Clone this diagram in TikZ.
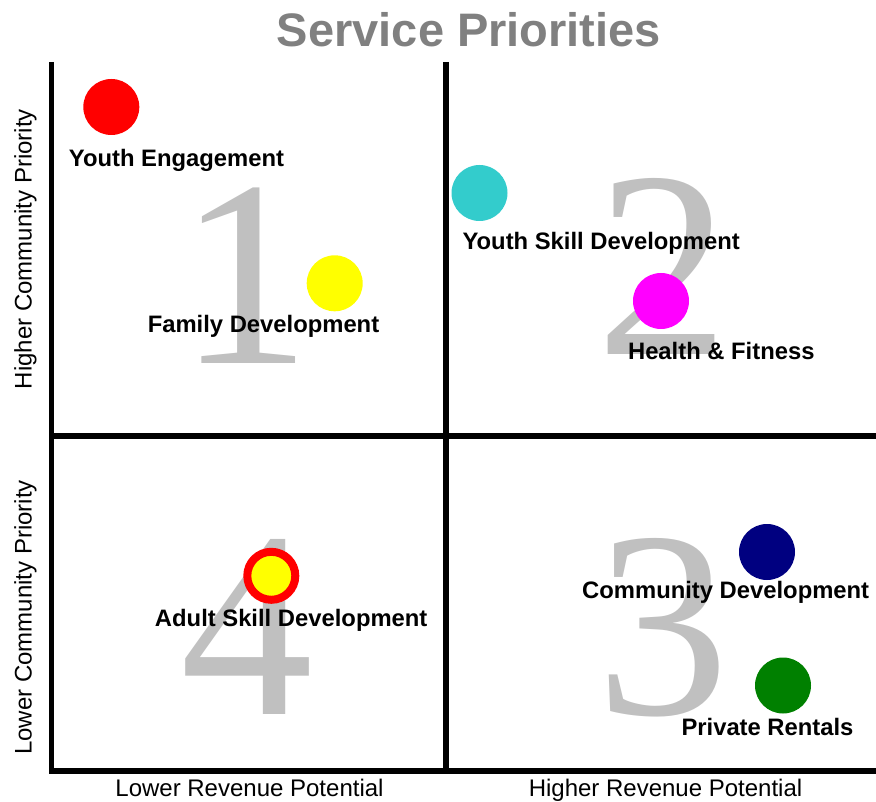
\documentclass[tikz,border=0pt]{standalone}
\usepackage{fontspec}
\setmainfont{Liberation Sans}
\newfontfamily\bignumfont{Liberation Serif}
\definecolor{titlegray}{HTML}{808080}
\definecolor{numgray}{HTML}{C0C0C0}
\definecolor{dotred}{HTML}{FF0000}
\definecolor{dotyellow}{HTML}{FFFF00}
\definecolor{dotcyan}{HTML}{33CCCC}
\definecolor{dotmagenta}{HTML}{FF00FF}
\definecolor{dotnavy}{HTML}{000080}
\definecolor{dotgreen}{HTML}{008000}
\begin{document}
\begin{tikzpicture}[x=1pt,y=-1pt,
  bignum/.style={anchor=base,inner sep=0pt,text=numgray,font=\bignumfont\fontsize{266}{266}\selectfont},
  itemlabel/.style={anchor=base,inner sep=0pt,font=\bfseries\fontsize{23.8}{26}\selectfont},
  axislabel/.style={anchor=base,inner sep=0pt,font=\fontsize{24}{26}\selectfont},
  dot/.style={circle,inner sep=0pt,minimum size=56pt,fill=#1},
  ringdot/.style={circle,inner sep=0pt,minimum size=48pt,fill=dotyellow,draw=dotred,line width=8pt},
  gridline/.style={line width=5.5pt,black}]
\useasboundingbox (0,0) rectangle (876,802);
% title
\node[anchor=base,inner sep=0pt,text=titlegray,font=\bfseries\fontsize{47}{50}\selectfont] (title) at (469,46.7) {Service Priorities};
% big quadrant numbers
\node[bignum] (n1) at (244.5,363) {1};
\node[bignum] (n2) at (662.5,355) {2};
\node[bignum] (n3) at (662.5,714) {3};
\node[bignum] (n4) at (247,714) {4};
% grid lines
\coordinate (lt) at (51.7,62);
\coordinate (lb) at (51.7,773.5);
\coordinate (mt) at (446,62);
\coordinate (mb) at (446,771);
\coordinate (hl) at (49,436);
\coordinate (hr) at (876,436);
\coordinate (bl) at (49,771);
\coordinate (br) at (876,771);
\draw[gridline] (lt) -- (lb);
\draw[gridline] (mt) -- (mb);
\draw[gridline] (hl) -- (hr);
\draw[gridline] (bl) -- (br);
% axis labels
\node[axislabel,rotate=90] (yhigh) at (31.5,249) {Higher Community Priority};
\node[axislabel,rotate=90] (ylow) at (31.5,617.5) {Lower Community Priority};
\node[axislabel] (xlow) at (249.5,796.7) {Lower Revenue Potential};
\node[axislabel] (xhigh) at (665.5,796.7) {Higher Revenue Potential};
% dots
\node[dot=dotred] (youthEng) at (111.3,107) {};
\node[dot=dotyellow] (family) at (334.7,283.3) {};
\node[dot=dotcyan] (youthSkill) at (479.5,193) {};
\node[dot=dotmagenta] (health) at (661,301) {};
\node[dot=dotnavy] (community) at (767,552) {};
\node[dot=dotgreen] (rentals) at (783,685.5) {};
\node[ringdot] (adult) at (271.3,575.8) {};
% labels
\node[itemlabel] (youthEngL) at (176.5,166.5) {Youth Engagement};
\node[itemlabel] (familyL) at (263.5,332.7) {Family Development};
\node[itemlabel] (youthSkillL) at (601.2,249.3) {Youth Skill Development};
\node[itemlabel] (healthL) at (721.3,359.3) {Health \& Fitness};
\node[itemlabel] (communityL) at (725.7,598.3) {Community Development};
\node[itemlabel] (rentalsL) at (767.5,735.7) {Private Rentals};
\node[itemlabel] (adultL) at (291.2,626) {Adult Skill Development};
\end{tikzpicture}
\end{document}
